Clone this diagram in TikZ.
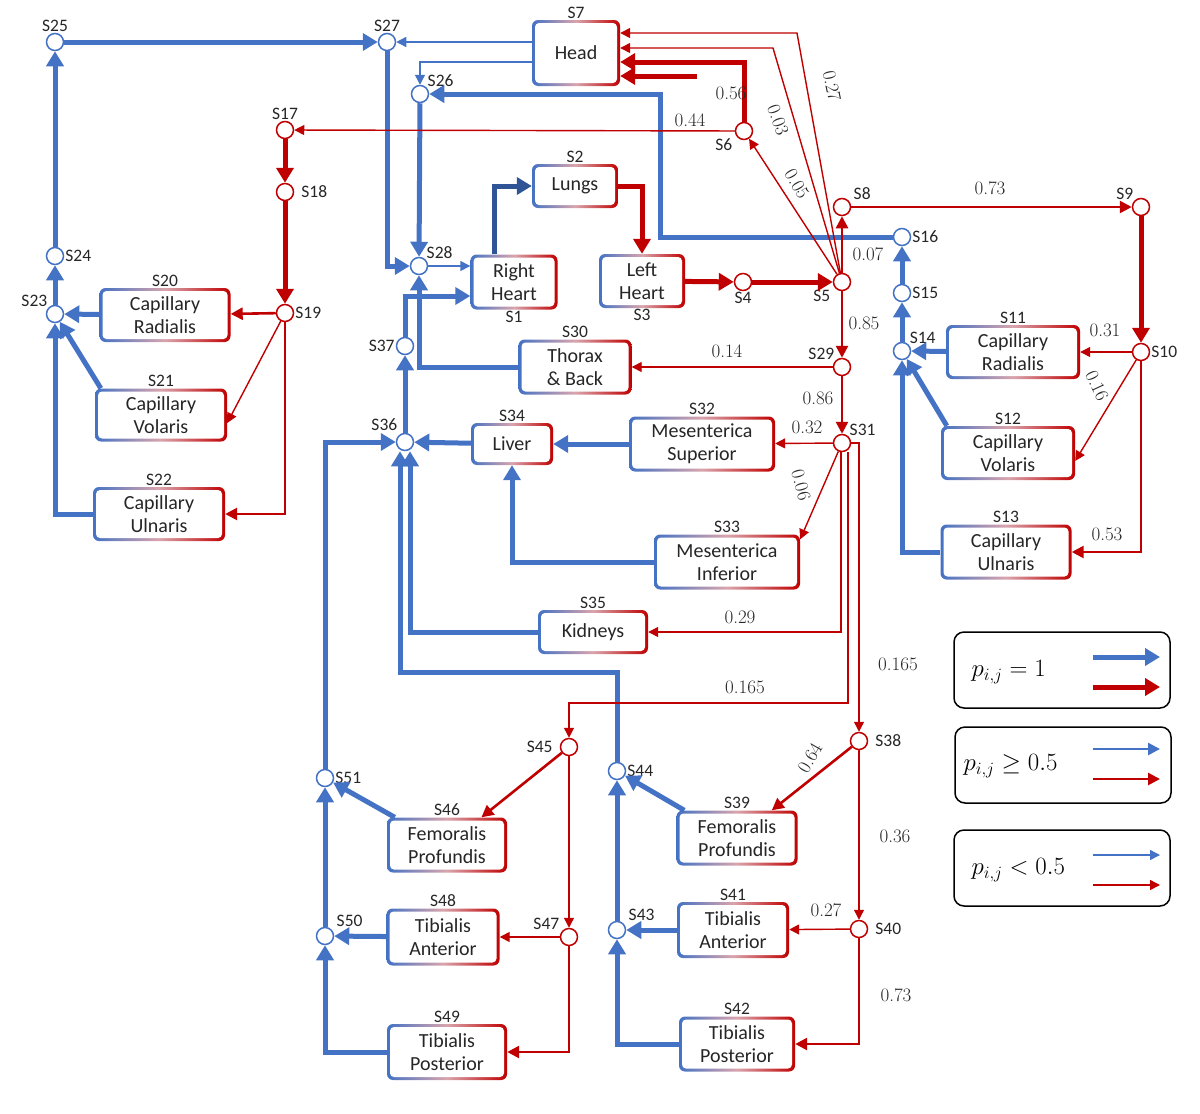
\documentclass[tikz,border=0pt]{standalone}
\usepackage{fontspec}
\newfontfamily\carl{Carlito}
\usetikzlibrary{arrows.meta}
\definecolor{cblue}{RGB}{68,114,196}
\definecolor{dblue}{RGB}{47,85,151}
\definecolor{cred}{RGB}{192,0,0}
\tikzset{
  box/.style={rounded corners=6pt, left color=cblue, right color=cred, middle color=cblue!25!cred!40!white,
    font=\carl\fontsize{20}{23}\selectfont, align=center, text=black!85, inner sep=0pt,
    path picture={\fill[white,rounded corners=4pt]
      ([shift={(3pt,3pt)}]path picture bounding box.south west) rectangle
      ([shift={(-3pt,-3pt)}]path picture bounding box.north east);}},
  lbl/.style={font=\carl\fontsize{17.5}{19}\selectfont, text=black!85, inner sep=1pt},
  bc/.style={circle, draw=cblue, fill=white, line width=1.5pt, minimum size=17pt, inner sep=0pt},
  rc/.style={bc, draw=cred},
  num/.style={font=\fontsize{19}{21}\selectfont, text=black!85, inner sep=1pt},
  bT/.style={draw=cblue, line width=5pt, -{Triangle[length=15pt,width=17pt]}},
  bM/.style={draw=cblue, line width=2.6pt, -{Triangle[length=12pt,width=12pt]}},
  bS/.style={draw=cblue, line width=1.4pt, -{Triangle[length=10pt,width=10pt]}},
  rT/.style={bT, draw=cred},
  rM/.style={bM, draw=cred},
  rS/.style={bS, draw=cred},
  leg/.style={draw=black, line width=1.5pt, rounded corners=10pt, minimum width=216pt, minimum height=76pt}
}
\begin{document}
\begin{tikzpicture}[x=1pt, y=-1pt]
\useasboundingbox (0,0) rectangle (1200,1114);

% organs
\node[box, minimum width=88pt, minimum height=66pt, label={[lbl]above:S7}] (head) at (576,53) {Head};
\node[box, minimum width=86pt, minimum height=44pt, label={[lbl]above:S2}] (lungs) at (575,186) {Lungs};
\node[box, minimum width=87pt, minimum height=55pt, label={[lbl]below:S1}] (rheart) at (514,282) {Right\\Heart};
\node[box, minimum width=86pt, minimum height=54pt, label={[lbl]below:S3}] (lheart) at (642,281) {Left\\Heart};
\node[box, minimum width=113pt, minimum height=55pt, label={[lbl]above:S30}] (thorax) at (575,367) {Thorax\\\& Back};
\node[box, minimum width=82pt, minimum height=42pt, label={[lbl]above:S34}] (liver) at (512,444) {Liver};
\node[box, minimum width=146pt, minimum height=55pt, label={[lbl]above:S32}] (messup) at (702,444) {Mesenterica\\Superior};
\node[box, minimum width=146pt, minimum height=55pt, label={[lbl]above:S33}] (mesinf) at (727,562) {Mesenterica\\Inferior};
\node[box, minimum width=110pt, minimum height=44pt, label={[lbl]above:S35}] (kidneys) at (593,632) {Kidneys};
% arms
\node[box, minimum width=131pt, minimum height=54pt, label={[lbl]above:S20}] (radL) at (165,315) {Capillary\\Radialis};
\node[box, minimum width=132pt, minimum height=53pt, label={[lbl]above:S21}] (volL) at (161,415) {Capillary\\Volaris};
\node[box, minimum width=132pt, minimum height=54pt, label={[lbl]above:S22}] (ulnL) at (159,514) {Capillary\\Ulnaris};
\node[box, minimum width=134pt, minimum height=54pt, label={[lbl]above:S11}] (radR) at (1013,352) {Capillary\\Radialis};
\node[box, minimum width=134pt, minimum height=54pt, label={[lbl]above:S12}] (volR) at (1008,453) {Capillary\\Volaris};
\node[box, minimum width=131pt, minimum height=55pt, label={[lbl]above:S13}] (ulnR) at (1006,552) {Capillary\\Ulnaris};
% legs
\node[box, minimum width=120pt, minimum height=55pt, label={[lbl]above:S46}] (femL) at (447,845) {Femoralis\\Profundis};
\node[box, minimum width=113pt, minimum height=57pt, label={[lbl]above:S48}] (tantL) at (443,937) {Tibialis\\Anterior};
\node[box, minimum width=120pt, minimum height=56pt, label={[lbl]above:S49}] (tpostL) at (447,1052) {Tibialis\\Posterior};
\node[box, minimum width=121pt, minimum height=55pt, label={[lbl]above:S39}] (femR) at (737,838) {Femoralis\\Profundis};
\node[box, minimum width=112pt, minimum height=56pt, label={[lbl]above:S41}] (tantR) at (733,930) {Tibialis\\Anterior};
\node[box, minimum width=116pt, minimum height=55pt, label={[lbl]above:S42}] (tpostR) at (737,1044) {Tibialis\\Posterior};

% junctions
\node[bc, label={[lbl]above:S25}] (s25) at (55,42) {};
\node[bc, label={[lbl]above:S27}] (s27) at (387,42) {};
\node[bc, label={[lbl]above right:S26}] (s26) at (420,94) {};
\node[bc, label={[lbl]right:S24}] (s24) at (55,256) {};
\node[bc, label={[lbl]above left:S23}] (s23) at (55,314) {};
\node[bc, label={[lbl]above right:S28}] (s28) at (419,266) {};
\node[bc, label={[lbl]left:S37}] (s37) at (405,346) {};
\node[bc, label={[lbl,yshift=4pt]above left:S36}] (s36) at (405,442) {};
\node[bc, label={[lbl]right:S51}] (s51) at (325,778) {};
\node[bc, label={[lbl,xshift=4pt,yshift=2pt]above right:S50}] (s50) at (325,936) {};
\node[bc, label={[lbl,xshift=4pt,yshift=2pt]above right:S43}] (s43) at (617,930) {};
\node[bc, label={[lbl]right:S44}] (s44) at (617,771) {};
\node[bc, label={[lbl]right:S16}] (s16) at (902,237) {};
\node[bc, label={[lbl]right:S15}] (s15) at (902,293) {};
\node[bc, label={[lbl]above right:S14}] (s14) at (902,351) {};
\node[rc, label={[lbl]above:S17}] (s17) at (285,130) {};
\node[rc, label={[lbl,xshift=6pt]right:S18}] (s18) at (285,192) {};
\node[rc, label={[lbl]right:S19}] (s19) at (285,313) {};
\node[rc, label={[lbl,xshift=-4pt]below left:S6}] (s6) at (744,131) {};
\node[rc, label={[lbl]below:S4}] (s4) at (743,282) {};
\node[rc, label={[lbl,xshift=-4pt]below left:S5}] (s5) at (842,282) {};
\node[rc, label={[lbl,xshift=4pt]above right:S8}] (s8) at (842,207) {};
\node[rc, label={[lbl]above left:S9}] (s9) at (1141,207) {};
\node[rc, label={[lbl]right:S10}] (s10) at (1141,352) {};
\node[rc, label={[lbl]above left:S29}] (s29) at (842,367) {};
\node[rc, label={[lbl]above right:S31}] (s31) at (842,443) {};
\node[rc, label={[lbl,xshift=6pt]right:S38}] (s38) at (859,741) {};
\node[rc, label={[lbl,xshift=6pt]right:S40}] (s40) at (859,929) {};
\node[rc, label={[lbl,xshift=-6pt]left:S45}] (s45) at (569,747) {};
\node[rc, label={[lbl,xshift=-2pt]above left:S47}] (s47) at (569,937) {};

\coordinate (h1) at (797,33);
\coordinate (h2) at (773,48);
\coordinate (h3) at (744,62);
\coordinate (h4) at (697,76);
\coordinate (k16) at (660,237);
\coordinate (k44) at (400,672);
\coordinate (k45) at (569,703);

% venous side
\draw[bS] (head.west |- s27) -- (s27);
\draw[bS] ([yshift=-9pt]head.west) -| (s26);
\draw[bT] (s25) -- (s27);
\draw[bT] (s24) -- (s25);
\draw[bT] (s23) -- (s24);
\draw[bT] (radL) -- (s23);
\draw[bT] ([xshift=6pt]volL.north west) -- (s23);
\draw[bT] (ulnL.west) -| (s23);
\draw[bT] (s27) |- (s28);
\draw[bT] (s26) -- (s28);
\draw[bT] (s16) -- (k16) |- (s26);
\draw[bS] (s28) -- (s28 -| rheart.west);
\draw[bT] (s37) |- ([yshift=-14pt]rheart.west);
\draw[bT] (thorax.west) -| (s28);
\draw[bT, draw=dblue] ([xshift=-20pt]rheart.north) |- (lungs.west);
\draw[bT] (s36) -- (s37);
\draw[bT] (liver) -- (s36);
\draw[bT] (messup) -- (liver);
\draw[bT] (mesinf.west) -| (liver);
\draw[bT] (kidneys.west) -| ([xshift=5pt]s36.south);
\draw[bT] (s44) |- (k44) -- (k44 |- s36.south);
\draw[bT] (s51) |- (s36);
\draw[bT] ([xshift=8pt]femL.north west) -- (s51);
\draw[bT] (s50) -- (s51);
\draw[bT] (tantL) -- (s50);
\draw[bT] (tpostL.west) -| (s50);
\draw[bT] ([xshift=8pt]femR.north west) -- (s44);
\draw[bT] (s43) -- (s44);
\draw[bT] (tantR) -- (s43);
\draw[bT] (tpostR.west) -| (s43);
\draw[bT] (s15) -- (s16);
\draw[bT] (s14) -- (s15);
\draw[bT] (radR) -- (s14);
\draw[bT] ([xshift=6pt]volR.north west) -- (s14);
\draw[bT] (ulnR.west) -| (s14);

% arterial side
\draw[rT] (lungs.east) -| (lheart.north);
\draw[rT] (lheart) -- (s4);
\draw[rT] (s4) -- (s5);
\draw[rS] (s5) -- (h1) -- (h1 -| head.east);
\draw[rS] (s5) -- (h2) -- (h2 -| head.east);
\draw[rT] (s6) -- (h3) -- (h3 -| head.east);
\draw[rT] (h4) -- (h4 -| head.east);
\draw[rS] (s5) -- (s6);
\draw[rS] (s6) -- (s17);
\draw[rT] (s17) -- (s18);
\draw[rT] (s18) -- (s19);
\draw[rM] (s19) -- (radL);
\draw[rS] (s19) -- ([yshift=-8pt]volL.east);
\draw[rM] (s19) |- (ulnL.east);
\draw[rM] (s5) -- (s8);
\draw[rM] (s8) -- (s9);
\draw[rT] (s9) -- (s10);
\draw[rS] (s10) -- (radR);
\draw[rS] (s10) -- ([yshift=-8pt]volR.east);
\draw[rM] (s10) |- (ulnR.east);
\draw[rM] (s5) -- (s29);
\draw[rS] (s29) -- (thorax);
\draw[rM] (s29) -- (s31);
\draw[rS] (s31) -- (messup);
\draw[rS] (s31) -- ([yshift=-5pt]mesinf.north east);
\draw[rS] ([xshift=-1pt]s31.south) |- (kidneys.east);
\draw[rS] ([xshift=6pt]s31.south) |- (k45) -- (s45);
\draw[rS] (s31.east) -| (s38);
\draw[rM] (s38) -- (femR);
\draw[rS] (s38) -- (s40);
\draw[rS] (s40) -- (tantR);
\draw[rM] (s40) |- (tpostR.east);
\draw[rM] (s45) -- (femL);
\draw[rS] (s45) -- (s47);
\draw[rS] (s47) -- (tantL);
\draw[rM] (s47) |- (tpostL.east);

% probabilities
\node[num, rotate=-78] (w1) at (832,86) {0.27};
\node[num, rotate=-70] (w2) at (778,120) {0.03};
\node[num] (w3) at (731,93) {0.56};
\node[num] (w4) at (690,120) {0.44};
\node[num, rotate=-60] (w5) at (797,184) {0.05};
\node[num] (w6) at (868,254) {0.07};
\node[num] (w7) at (990,188) {0.73};
\node[num] (w8) at (1105,330) {0.31};
\node[num, rotate=-65] (w9) at (1097,386) {0.16};
\node[num] (w10) at (1107,534) {0.53};
\node[num] (w11) at (864,323) {0.85};
\node[num] (w12) at (727,351) {0.14};
\node[num] (w13) at (818,398) {0.86};
\node[num] (w14) at (807,427) {0.32};
\node[num, rotate=-75] (w15) at (801,485) {0.06};
\node[num] (w16) at (740,617) {0.29};
\node[num] (w17) at (745,687) {0.165};
\node[num] (w18) at (898,664) {0.165};
\node[num, rotate=60] (w19) at (810,758) {0.64};
\node[num] (w20) at (895,836) {0.36};
\node[num] (w21) at (826,910) {0.27};
\node[num] (w22) at (896,995) {0.73};

% legend
\node[leg] (leg1) at (1062,670) {};
\node[leg] (leg2) at (1063,765) {};
\node[leg] (leg3) at (1062,868) {};
\node[font=\fontsize{26}{28}\selectfont, anchor=west] (t1) at (968,672) {$p_{i,j}=1$};
\node[font=\fontsize{26}{28}\selectfont, anchor=west] (t2) at (960,766) {$p_{i,j}\geq 0.5$};
\node[font=\fontsize{26}{28}\selectfont, anchor=west] (t3) at (968,870) {$p_{i,j}<0.5$};
\draw[bT] (1093,657) -- (1160,657);
\draw[rT] (1093,687) -- (1160,687);
\draw[bM] (1093,749) -- (1160,749);
\draw[rM] (1093,779) -- (1160,779);
\draw[bS] (1093,855) -- (1160,855);
\draw[rS] (1093,885) -- (1160,885);
\end{tikzpicture}
\end{document}
